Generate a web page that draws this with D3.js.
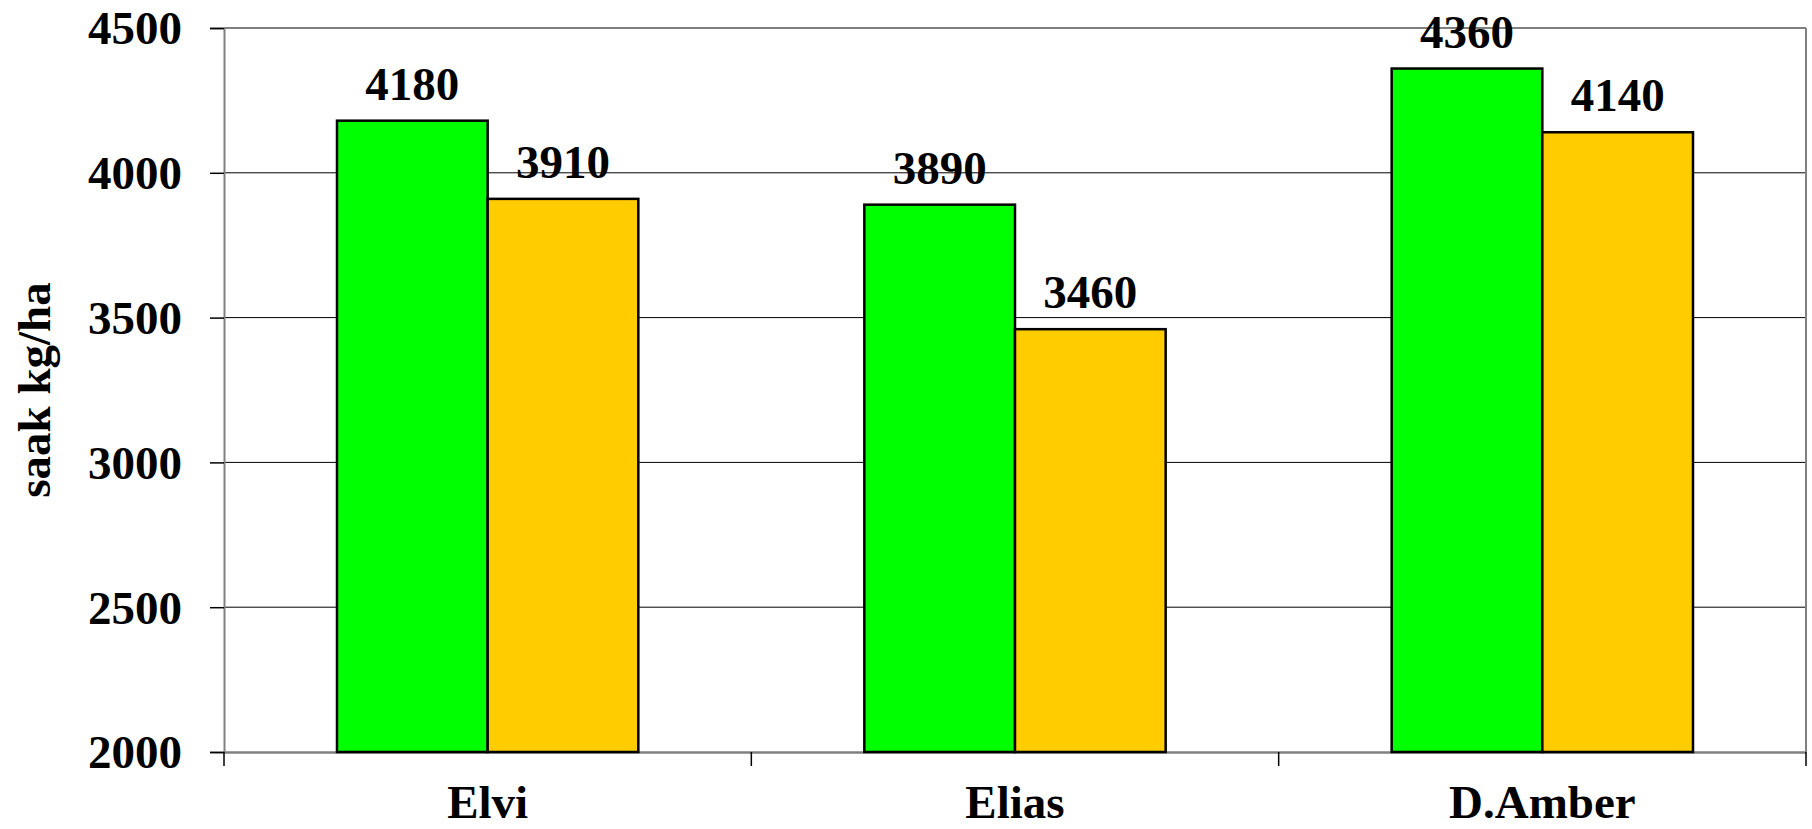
<!DOCTYPE html>
<html>
<head>
<meta charset="utf-8">
<script src="https://cdn.jsdelivr.net/npm/d3@7"></script>
<style>
  html, body { margin: 0; padding: 0; background: #fff; }
  svg { display: block; }
  text { font-family: "Liberation Serif", "Times New Roman", serif; font-weight: bold; fill: #000; }
</style>
</head>
<body>
<svg id="chart" width="1812" height="829"></svg>
<script>
const categories = ["Elvi", "Elias", "D.Amber"];
const seriesNames = ["s1", "s2"];
const series1 = [4180, 3890, 4360];
const series2 = [3910, 3460, 4140];
const yTicks = [2000, 2500, 3000, 3500, 4000, 4500];
const yTitle = "saak kg/ha";
const colors = ["#00ff00", "#ffcc00"];

const W = 1812, H = 829;
const m = { left: 224, right: 6, top: 28, bottom: 77 };
const svg = d3.select("#chart");

const x = d3.scaleBand().domain(categories).range([m.left, W - m.right]).padding(0);
const y = d3.scaleLinear().domain([2000, 4500]).range([H - m.bottom, m.top]);
const bw = x.bandwidth() / (2 + 1.5);
const xs = d3.scaleBand().domain(seriesNames).range([(x.bandwidth() - 2 * bw) / 2, (x.bandwidth() + 2 * bw) / 2]);

// gridlines
svg.append("g").selectAll("line").data(yTicks.filter(t => t > 2000 && t < 4500)).join("line")
  .attr("x1", m.left).attr("x2", W - m.right)
  .attr("y1", d => y(d)).attr("y2", d => y(d))
  .attr("stroke", "#000").attr("stroke-width", 1);

// plot border top & right
svg.append("line").attr("x1", m.left).attr("x2", W - m.right).attr("y1", y(4500)).attr("y2", y(4500))
  .attr("stroke", "#808080").attr("stroke-width", 2);
svg.append("line").attr("x1", W - m.right).attr("x2", W - m.right).attr("y1", y(4500)).attr("y2", y(2000))
  .attr("stroke", "#808080").attr("stroke-width", 2);

// y axis
const yAxis = d3.axisLeft(y).tickValues(yTicks).tickSize(14).tickPadding(28).tickFormat(d3.format("d"));
const gy = svg.append("g").attr("transform", `translate(${m.left},0)`).call(yAxis);
gy.select(".domain").attr("stroke", "#808080").attr("stroke-width", 2);
gy.selectAll(".tick line").attr("stroke", "#000").attr("stroke-width", 1.5);
gy.selectAll(".tick text").attr("font-size", 47).attr("dy", "0.34em")
  .style("font-family", '"Liberation Serif", "Times New Roman", serif').style("font-weight", "bold");

// x axis
const xAxis = d3.axisBottom(x).tickSize(0).tickPadding(0).tickFormat(() => "");
const gx = svg.append("g").attr("transform", `translate(0,${y(2000)})`).call(xAxis);
gx.select(".domain").attr("stroke", "#808080").attr("stroke-width", 2.5);
gx.selectAll(".tick").remove();
const boundaries = categories.map(c => x(c)).concat([x(categories[categories.length - 1]) + x.bandwidth()]);
gx.selectAll("line.tk").data(boundaries).join("line").attr("class", "tk")
  .attr("x1", d => d).attr("x2", d => d).attr("y1", 0).attr("y2", 14)
  .attr("stroke", "#000").attr("stroke-width", 1.5);
svg.append("g").selectAll("text").data(categories).join("text")
  .attr("x", d => x(d) + x.bandwidth() / 2).attr("y", 818)
  .attr("text-anchor", "middle").attr("font-size", 47).text(d => d);

// bars
const data = categories.map((c, i) => ({ c, vals: [series1[i], series2[i]] }));
const groups = svg.append("g").selectAll("g").data(data).join("g")
  .attr("transform", d => `translate(${x(d.c)},0)`);
groups.selectAll("rect").data(d => d.vals.map((v, j) => ({ v, s: seriesNames[j], j }))).join("rect")
  .attr("x", d => xs(d.s)).attr("width", xs.bandwidth())
  .attr("y", d => y(d.v)).attr("height", d => y(2000) - y(d.v))
  .attr("fill", d => colors[d.j]).attr("stroke", "#000").attr("stroke-width", 2.5);
groups.selectAll("text").data(d => d.vals.map((v, j) => ({ v, s: seriesNames[j] }))).join("text")
  .attr("x", d => xs(d.s) + xs.bandwidth() / 2).attr("y", d => y(d.v) - 21)
  .attr("text-anchor", "middle").attr("font-size", 47).text(d => d.v);

// y title
svg.append("text").attr("transform", `translate(50,${(y(2000) + y(4500)) / 2}) rotate(-90)`)
  .attr("text-anchor", "middle").attr("font-size", 47).text(yTitle);
</script>
</body>
</html>
